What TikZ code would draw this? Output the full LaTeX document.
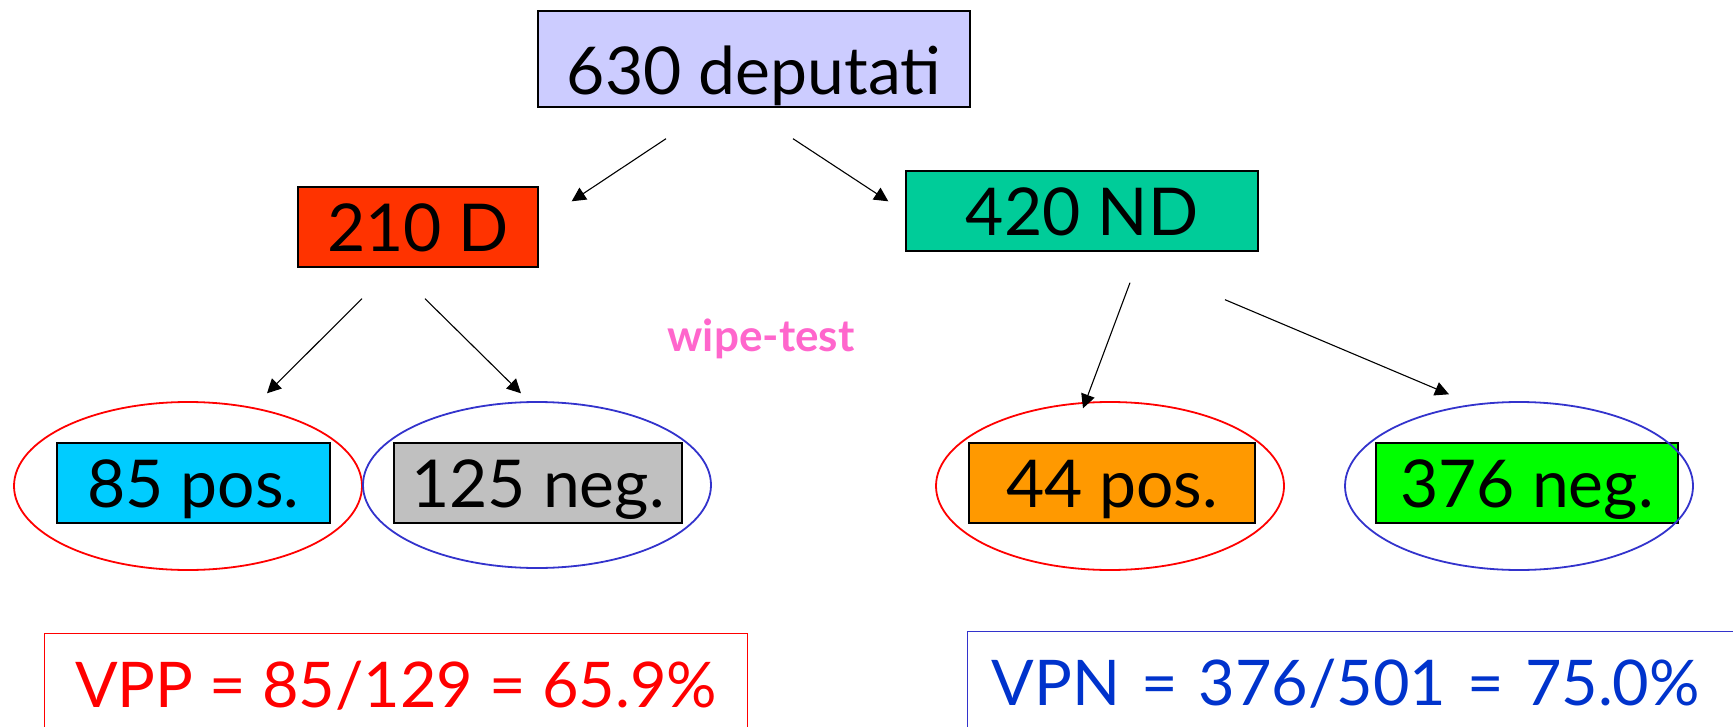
\documentclass[tikz,border=0pt]{standalone}
\usepackage{fontspec}
\setmainfont{Lato}
\usetikzlibrary{arrows.meta}
\definecolor{lavender}{HTML}{CCCCFF}
\definecolor{dred}{HTML}{FF3300}
\definecolor{ndgreen}{HTML}{00CC99}
\definecolor{cyanbox}{HTML}{00CCFF}
\definecolor{greybox}{HTML}{C0C0C0}
\definecolor{orangebox}{HTML}{FF9900}
\definecolor{limebox}{HTML}{00FF00}
\definecolor{ringred}{HTML}{FF0000}
\definecolor{ringblue}{HTML}{3333CC}
\definecolor{vpnblue}{HTML}{0033CC}
\definecolor{wipepink}{HTML}{FF66CC}
\tikzset{every node/.style={font=\fontsize{33}{36}\selectfont, inner sep=0pt},
  box/.style={draw=black, line width=0.7pt, text height=32pt, text depth=8pt},
  arr/.style={-{Triangle[length=7pt,width=7pt]}, line width=0.55pt},
  ring/.style={line width=0.9pt},
  result/.style={draw, line width=0.6pt, font=\fontsize{31.5}{34}\selectfont, text height=37pt, text depth=27pt, anchor=north west}}

\begin{document}
\begin{tikzpicture}[x=0.5pt, y=-0.5pt]
  \useasboundingbox (0,0) rectangle (1733,727);
  \clip (0,0) rectangle (1733,727);
  \node[box, fill=lavender, minimum width=216pt, text height=42pt, text depth=6pt] (top) at (754,59) {630 deputati};
  \node[box, fill=dred, minimum width=120pt] (d) at (418,227) {210 D};
  \node[box, fill=ndgreen, minimum width=176pt] (nd) at (1082,211) {420 ND};
  \node[box, fill=cyanbox, minimum width=136.5pt] (dpos) at (193.5,483) {85 pos.};
  \node[box, fill=greybox, minimum width=144pt] (dneg) at (538,483) {125 neg.};
  \node[box, fill=orangebox, minimum width=143pt] (ndpos) at (1112,483) {44 pos.};
  \node[box, fill=limebox, minimum width=151pt] (ndneg) at (1527,483) {376 neg.};
  \draw[ring, ringred] (188,486) ellipse [x radius=87pt, y radius=42pt];
  \draw[ring, ringblue] (537,485) ellipse [x radius=87pt, y radius=41.5pt];
  \draw[ring, ringred] (1110,486) ellipse [x radius=87pt, y radius=42pt];
  \draw[ring, ringblue] (1519,486) ellipse [x radius=87pt, y radius=42pt];
  \draw[arr] ([shift={(-88,31)}]top.south) -- ([shift={(33,15)}]d.north east);
  \draw[arr] ([shift={(39,31)}]top.south) -- ([shift={(-17,31)}]nd.north west);
  \draw[arr] ([shift={(-56,31)}]d.south) -- ([shift={(73.5,-49)}]dpos.north);
  \draw[arr] ([shift={(7,31)}]d.south) -- ([shift={(-17,-49)}]dneg.north);
  \draw[arr] ([shift={(48,31)}]nd.south) -- ([shift={(-29,-34)}]ndpos.north);
  \draw[arr] ([shift={(143,48)}]nd.south) -- ([shift={(-78,-48)}]ndneg.north);
  \node[font=\fontsize{22}{24}\selectfont\bfseries, text=wipepink, anchor=base] (wipe) at (761,351) {wipe-test};
  \node[result, draw=ringred, text=ringred, minimum width=351.5pt] (vpp) at (44,633) {VPP = 85/129 = 65.9\%};
  \node[result, draw=ringblue, text=vpnblue, inner xsep=12pt, text width=400pt, align=left] (vpn) at (967,631) {VPN = 376/501 = 75.0\%};
\end{tikzpicture}
\end{document}
